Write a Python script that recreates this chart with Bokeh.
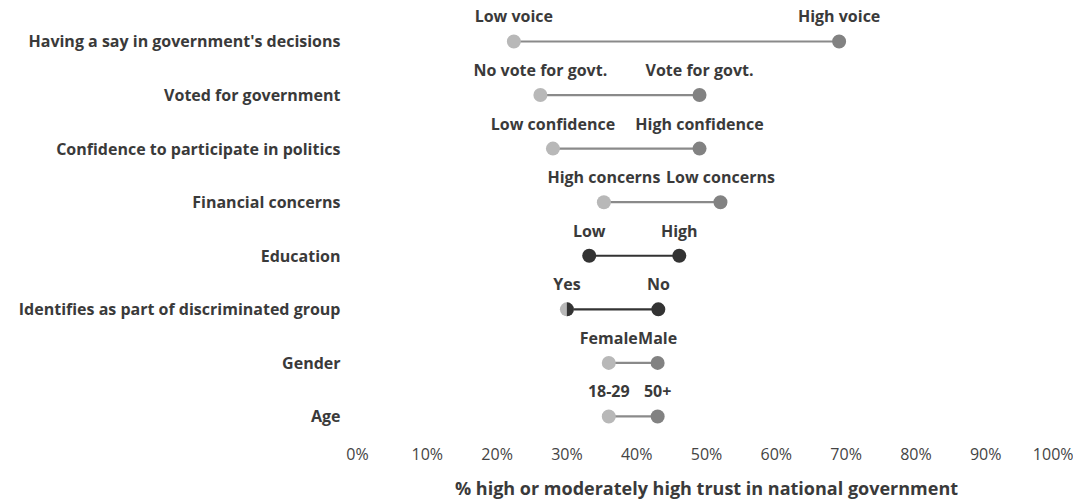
from bokeh.plotting import figure
from bokeh.models import Range1d, FixedTicker, ColumnDataSource, CustomJSTickFormatter
from bokeh.embed import file_html
from bokeh.resources import INLINE
from bokeh.core.properties import value

categories = [
    "Having a say in government's decisions",
    "Voted for government",
    "Confidence to participate in politics",
    "Financial concerns",
    "Education",
    "Identifies as part of discriminated group",
    "Gender",
    "Age",
]
low_labels = ["Low voice", "No vote for govt.", "Low confidence", "High concerns",
              "Low", "Yes", "Female", "18-29"]
high_labels = ["High voice", "Vote for govt.", "High confidence", "Low concerns",
               "High", "No", "Male", "50+"]
low_values = [22.4, 26.2, 28.0, 35.3, 33.2, 30.0, 36.0, 36.0]
high_values = [69.0, 49.0, 49.0, 52.0, 46.1, 43.1, 43.0, 43.0]
highlight = [False, False, False, False, True, True, False, False]
x_ticks = [0, 10, 20, 30, 40, 50, 60, 70, 80, 90, 100]

n = len(categories)
ys = [n - 1 - i for i in range(n)]

FONT = "Open Sans"
DARK = "#333333"

low_col = ["#333333" if (h and i == 4) else "#b8b8b8" for i, h in enumerate(highlight)]
high_col = ["#333333" if h else "#828282" for h in highlight]
line_col = ["#333333" if h else "#8a8a8a" for h in highlight]

src = ColumnDataSource(dict(
    y=ys, lo=low_values, hi=high_values,
    lo_lab=low_labels, hi_lab=high_labels,
    lo_col=low_col, hi_col=high_col, line_col=line_col,
))

p = figure(width=1073, height=502, output_backend="svg", toolbar_location=None,
           x_range=Range1d(0, 100), y_range=Range1d(-0.15, 7.765),
           min_border_left=357, min_border_right=18, min_border_top=0, min_border_bottom=0)
p.outline_line_color = None
p.grid.grid_line_color = None

p.segment(x0="lo", y0="y", x1="hi", y1="y", source=src, line_color="line_col", line_width=2.2)
p.scatter(x="lo", y="y", source=src, size=14, fill_color="lo_col", line_color=None)
p.scatter(x="hi", y="y", source=src, size=14, fill_color="hi_col", line_color=None)

# half-dark marker for the discriminated group "Yes" point
i_d = 5
p.wedge(x=[low_values[i_d]], y=[ys[i_d]], radius=7, radius_units="screen",
        start_angle=-1.5708, end_angle=1.5708, fill_color=DARK, line_color=None)

for col in ("lo", "hi"):
    p.text(x=col, y="y", text=col + "_lab", source=src, text_align="center",
           text_baseline="middle", y_offset=-25, text_font=value(FONT),
           text_font_style="bold", text_font_size="16px", text_color="#3a3a3a")

# axes
p.xaxis.ticker = FixedTicker(ticks=x_ticks)
p.xaxis.formatter = CustomJSTickFormatter(code="return tick + '%';")
p.xaxis.axis_line_color = None
p.xaxis.major_tick_line_color = None
p.xaxis.minor_tick_line_color = None
p.xaxis.major_label_standoff = 12
p.xaxis.major_label_text_font = FONT
p.xaxis.major_label_text_font_size = "16px"
p.xaxis.major_label_text_color = "#444444"
p.xaxis.axis_label = "% high or moderately high trust in national government"
p.xaxis.axis_label_text_font = FONT
p.xaxis.axis_label_text_font_size = "18px"
p.xaxis.axis_label_text_font_style = "bold"
p.xaxis.axis_label_text_color = "#3a3a3a"
p.xaxis.axis_label_standoff = 8

p.yaxis.ticker = FixedTicker(ticks=ys)
p.yaxis.major_label_overrides = {y: c for y, c in zip(ys, categories)}
p.yaxis.axis_line_color = None
p.yaxis.major_tick_line_color = None
p.yaxis.minor_tick_line_color = None
p.yaxis.major_label_standoff = 11
p.yaxis.major_label_text_font = FONT
p.yaxis.major_label_text_font_size = "16px"
p.yaxis.major_label_text_font_style = "bold"
p.yaxis.major_label_text_color = "#3a3a3a"

open("out.html", "w").write(file_html(p, INLINE))
